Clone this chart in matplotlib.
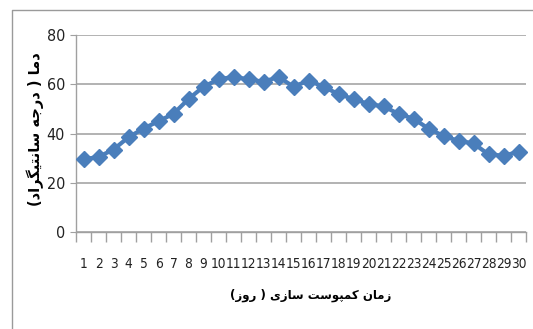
import matplotlib
matplotlib.use("Agg")
import matplotlib.pyplot as plt
from matplotlib.lines import Line2D

# data
days = [str(d) for d in range(1, 31)]
temps = [29.5, 30.5, 33.5, 38.5, 42, 45, 48, 54, 59, 62, 63, 62, 61, 63, 59,
         61.5, 59, 56, 54, 52, 51, 48, 46, 42, 39, 37, 36, 31.5, 31, 32.5]
yticks = [0, 20, 40, 60, 80]
xlabel = "زمان کمپوست سازی ( روز)"
ylabel = "دما ( درجه سانتیگراد)"

# minimal Persian shaping (isolated, final, initial, medial)
forms = {
    'ا': ('\uFE8D', '\uFE8E', None, None),
    'د': ('\uFEA9', '\uFEAA', None, None),
    'ر': ('\uFEAD', '\uFEAE', None, None),
    'ز': ('\uFEAF', '\uFEB0', None, None),
    'و': ('\uFEED', '\uFEEE', None, None),
    'م': ('\uFEE1', '\uFEE2', '\uFEE3', '\uFEE4'),
    'ج': ('\uFE9D', '\uFE9E', '\uFE9F', '\uFEA0'),
    'ه': ('\uFEE9', '\uFEEA', '\uFEEB', '\uFEEC'),
    'س': ('\uFEB1', '\uFEB2', '\uFEB3', '\uFEB4'),
    'ن': ('\uFEE5', '\uFEE6', '\uFEE7', '\uFEE8'),
    'ت': ('\uFE95', '\uFE96', '\uFE97', '\uFE98'),
    'ی': ('\uFBFC', '\uFBFD', '\uFBFE', '\uFBFF'),
    'گ': ('\uFB92', '\uFB93', '\uFB94', '\uFB95'),
    'ک': ('\uFB8E', '\uFB8F', '\uFB90', '\uFB91'),
    'پ': ('\uFB56', '\uFB57', '\uFB58', '\uFB59'),
}


def shape(text):
    out = []
    for i, c in enumerate(text):
        if c not in forms:
            out.append(c)
            continue
        prev = text[i - 1] if i > 0 else ''
        nxt = text[i + 1] if i + 1 < len(text) else ''
        jp = prev in forms and forms[prev][2] is not None
        jn = forms[c][2] is not None and nxt in forms
        iso, fin, ini, med = forms[c]
        if jp and jn:
            out.append(med)
        elif jp:
            out.append(fin)
        elif jn:
            out.append(ini)
        else:
            out.append(iso)
    s = ''.join(out)[::-1]
    return s.translate(str.maketrans('()', ')('))


plt.rcParams['font.family'] = ['DejaVu Sans']
plt.rcParams['font.stretch'] = 'condensed'

fig = plt.figure(figsize=(5.33, 3.29), dpi=100)
ax = fig.add_axes([76/533, 1 - 232/329, 450/533, 197/329])

x = list(range(len(days)))
ax.plot(x, temps, color='#4A7EBB', lw=3, marker='D', markersize=8.5,
        markeredgecolor='#4A7EBB', clip_on=False, zorder=3)

ax.set_xlim(-0.5, len(days) - 0.5)
ax.set_ylim(0, 80)
ax.set_yticks(yticks)
ax.set_xticks(x)
ax.set_xticklabels(days)
ax.set_xticks([i - 0.5 for i in range(len(days) + 1)], minor=True)
ax.tick_params(axis='x', which='major', length=0, pad=18, labelsize=9.8,
               colors='#222222')
ax.tick_params(axis='x', which='minor', length=7, color='#A0A0A0', width=1)
ax.tick_params(axis='y', length=4, pad=4, labelsize=11.5,
               colors='#222222')
ax.tick_params(axis='y', color='#A0A0A0')
ax.grid(axis='y', color='#A6A6A6', lw=1.2)
ax.set_axisbelow(True)
for side in ['top', 'right']:
    ax.spines[side].set_visible(False)
for side in ['left', 'bottom']:
    ax.spines[side].set_color('#A0A0A0')
    ax.spines[side].set_linewidth(1)

ax.text(0.522, -0.32, shape(xlabel), transform=ax.transAxes, ha='center',
        va='center', fontsize=8.5, fontweight='bold', fontstretch='normal')
ax.text(-0.091, 0.52, shape(ylabel), transform=ax.transAxes, ha='center',
        va='center', rotation=90, fontsize=10.5, fontweight='bold',
        fontstretch='normal')

# outer chart border
fig.add_artist(Line2D([12/533, 12/533, 1], [0, 1 - 10/329, 1 - 10/329],
                      transform=fig.transFigure, color='#9A9A9A', lw=1))

fig.savefig('out.png', dpi=100)
